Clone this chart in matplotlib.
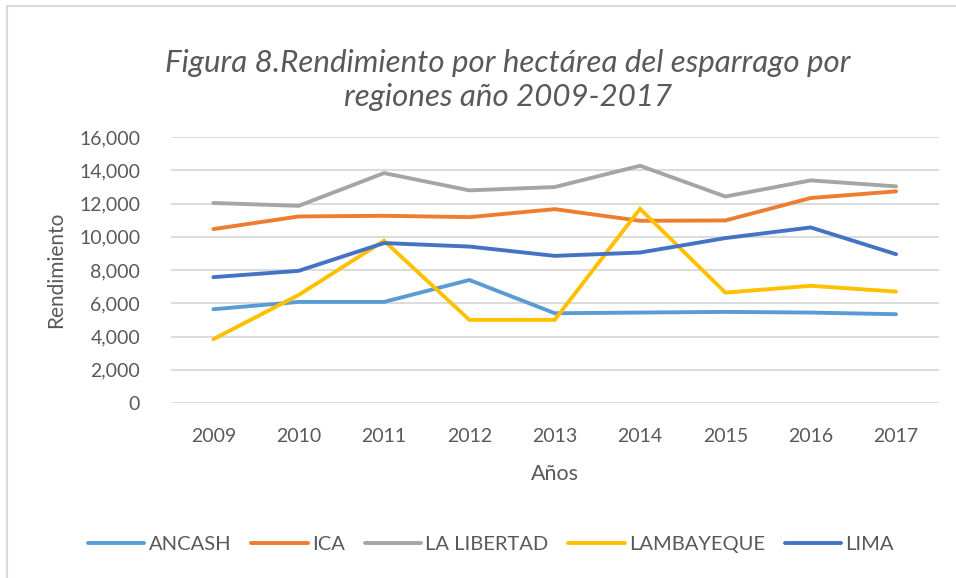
import numpy as np
import matplotlib.pyplot as plt
from matplotlib.ticker import FuncFormatter
from matplotlib.lines import Line2D

years = ["2009", "2010", "2011", "2012", "2013", "2014", "2015", "2016", "2017"]

ancash = [5640, 6080, 6080, 7400, 5400, 5440, 5480, 5440, 5340]
ica = [10460, 11220, 11260, 11180, 11660, 10960, 10980, 12330, 12730]
la_libertad = [12030, 11860, 13830, 12790, 12990, 14270, 12420, 13390, 13030]
lambayeque = [3840, 6500, 9760, 5000, 5000, 11680, 6640, 7050, 6700]
lima = [7570, 7950, 9620, 9410, 8850, 9050, 9920, 10560, 8950]

series_names = ["ANCASH", "ICA", "LA LIBERTAD", "LAMBAYEQUE", "LIMA"]
series_values = [ancash, ica, la_libertad, lambayeque, lima]
series_colors = ["#5B9BD5", "#ED7D31", "#A5A5A5", "#FFC000", "#4472C4"]

text_color = "#595959"
grid_color = "#D9D9D9"

plt.rcParams['font.family'] = ['Lato', 'DejaVu Sans']

W, H = 956, 578
figure = plt.figure(figsize=(W / 100, H / 100), dpi=100)

# chart border (left and top edges visible)
figure.add_artist(Line2D([7 / W, 7 / W], [0, 1 - 6 / H], color=grid_color, lw=1.5))
figure.add_artist(Line2D([7 / W, 1], [1 - 6 / H, 1 - 6 / H], color=grid_color, lw=1.5))

axis = figure.add_axes([170.7 / W, 1 - 403 / H, (938.7 - 170.7) / W, (403 - 137) / H])

x = np.arange(len(years))
for name, values, color in zip(series_names, series_values, series_colors):
    axis.plot(x, values, color=color, lw=2.8, label=name,
              solid_capstyle="round", solid_joinstyle="miter")

axis.set_xlim(-0.5, len(years) - 0.5)
axis.set_ylim(0, 16000)
axis.set_yticks(np.arange(0, 16001, 2000))
axis.yaxis.set_major_formatter(FuncFormatter(lambda v, p: "{:,.0f}".format(v)))
axis.set_xticks(x)
axis.set_xticklabels(years)
axis.yaxis.grid(True, color=grid_color, lw=1.3)
axis.set_axisbelow(True)
for s in axis.spines.values():
    s.set_visible(False)
axis.tick_params(length=0, labelsize=14, labelcolor=text_color)
axis.tick_params(axis="y", pad=22)
axis.tick_params(axis="x", pad=18)

axis.set_ylabel("Rendimiento", fontsize=15, color=text_color, labelpad=9)
axis.set_xlabel("Años", fontsize=15.5, color=text_color, labelpad=14)

figure.text(508 / W, 1 - 80 / H, "Figura 8.Rendimiento por hectárea del esparrago por\nregiones año 2009-2017",
            ha="center", va="center", fontsize=22.5, style="italic", color=text_color, linespacing=1.3)

figure.legend(loc="center", bbox_to_anchor=(491 / W, 1 - 544 / H), ncol=5, frameon=False,
              fontsize=14.5, labelcolor=text_color, handlelength=2.8, handletextpad=0.2,
              columnspacing=1.0)

plt.savefig("out.png", dpi=100)
